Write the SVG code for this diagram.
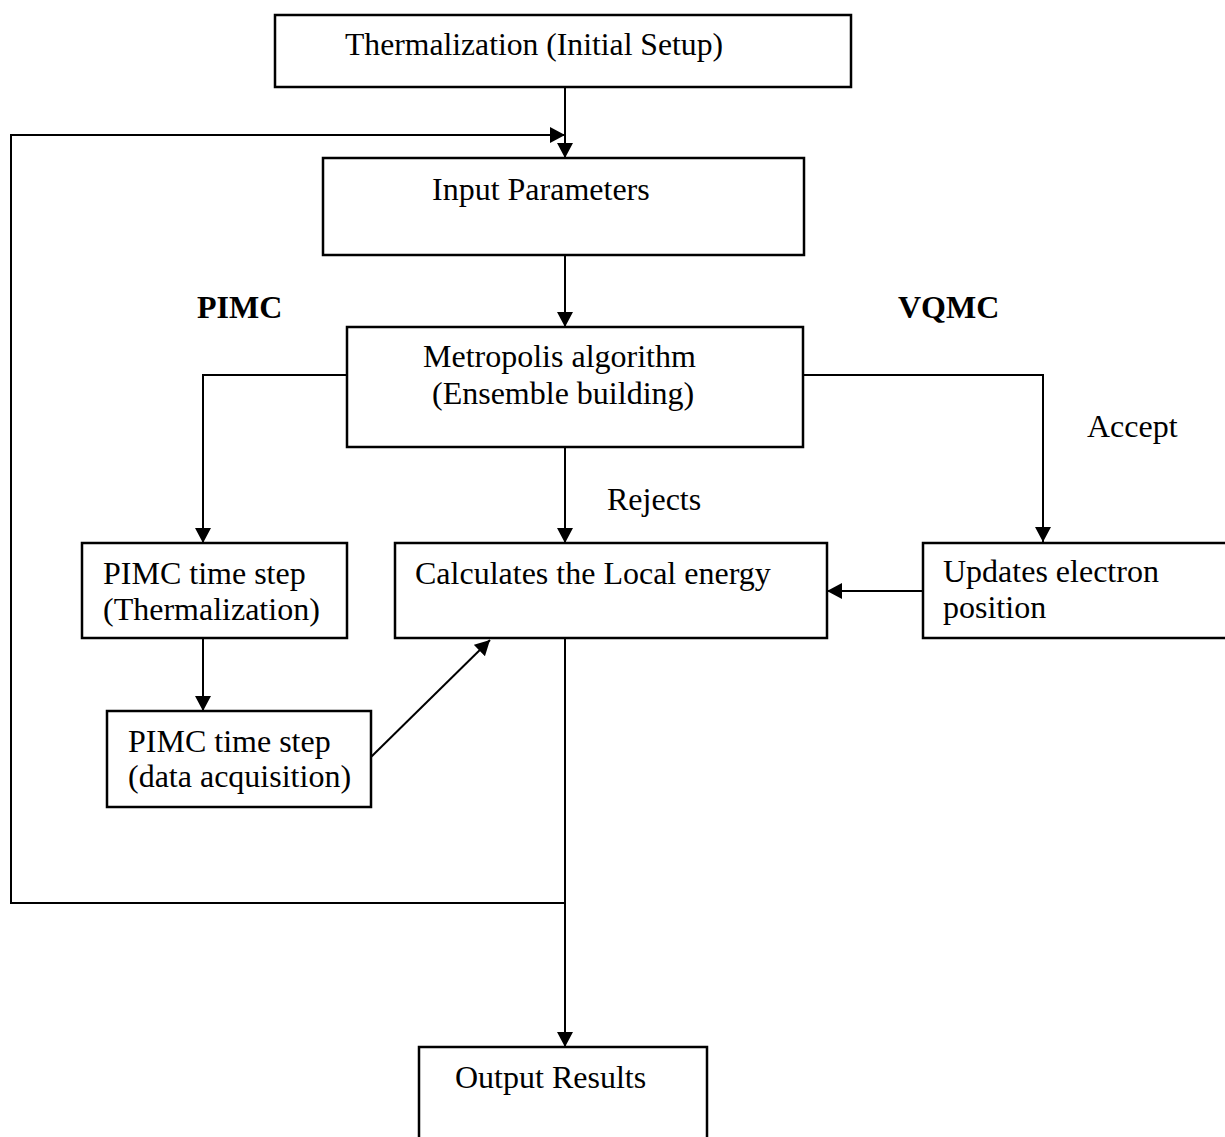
<svg xmlns="http://www.w3.org/2000/svg" width="1225" height="1137" viewBox="0 0 1225 1137">
<defs>
<marker id="ah" markerUnits="userSpaceOnUse" markerWidth="16" markerHeight="16" refX="15" refY="8" orient="auto">
<path d="M0,0 L15,8 L0,16 z" fill="#000"/>
</marker>
<style>
.box{fill:#fff;stroke:#000;stroke-width:2.5}
.t{font-family:"Liberation Serif","Times New Roman",serif;font-size:32px;fill:#000}
.b{font-weight:bold}
.c{fill:none;stroke:#000;stroke-width:2}
.a{marker-end:url(#ah)}
</style>
</defs>
<rect width="1225" height="1137" fill="#fff"/>
<g id="connectors">
<path class="c a" d="M565,87 V158"/>
<path class="c a" d="M565,903 H11 V135 H565"/>
<path class="c a" d="M565,255 V327"/>
<path class="c a" d="M565,447 V543"/>
<path class="c a" d="M347,375 H203 V543"/>
<path class="c a" d="M803,375 H1043 V542"/>
<path class="c a" d="M203,638 V711"/>
<path class="c a" d="M371,757 L490,640"/>
<path class="c a" d="M923,591 L827,591"/>
<path class="c a" d="M565,638 V1047"/>
</g>
<g id="thermalization">
<rect class="box" x="275" y="15" width="576" height="72"/>
<text class="t" x="345" y="55" textLength="378" lengthAdjust="spacingAndGlyphs">Thermalization (Initial Setup)</text>
</g>
<g id="input">
<rect class="box" x="323" y="158" width="481" height="97"/>
<text class="t" x="432" y="200">Input Parameters</text>
</g>
<g id="label-pimc"><text class="t b" x="197" y="318">PIMC</text></g>
<g id="label-vqmc"><text class="t b" x="898" y="318">VQMC</text></g>
<g id="metropolis">
<rect class="box" x="347" y="327" width="456" height="120"/>
<text class="t" x="423" y="367">Metropolis algorithm</text>
<text class="t" x="432" y="404">(Ensemble building)</text>
</g>
<g id="label-accept"><text class="t" x="1087" y="437">Accept</text></g>
<g id="label-rejects"><text class="t" x="607" y="510">Rejects</text></g>
<g id="pimc-therm">
<rect class="box" x="82" y="543" width="265" height="95"/>
<text class="t" x="103" y="584">PIMC time step</text>
<text class="t" x="103" y="620">(Thermalization)</text>
</g>
<g id="local-energy">
<rect class="box" x="395" y="543" width="432" height="95"/>
<text class="t" x="415" y="584">Calculates the Local energy</text>
</g>
<g id="update">
<rect class="box" x="923" y="543" width="305" height="95"/>
<text class="t" x="943" y="582">Updates electron</text>
<text class="t" x="943" y="618">position</text>
</g>
<g id="pimc-data">
<rect class="box" x="107" y="711" width="264" height="96"/>
<text class="t" x="128" y="752">PIMC time step</text>
<text class="t" x="128" y="787">(data acquisition)</text>
</g>
<g id="output">
<rect class="box" x="419" y="1047" width="288" height="100"/>
<text class="t" x="455" y="1088">Output Results</text>
</g>
</svg>
